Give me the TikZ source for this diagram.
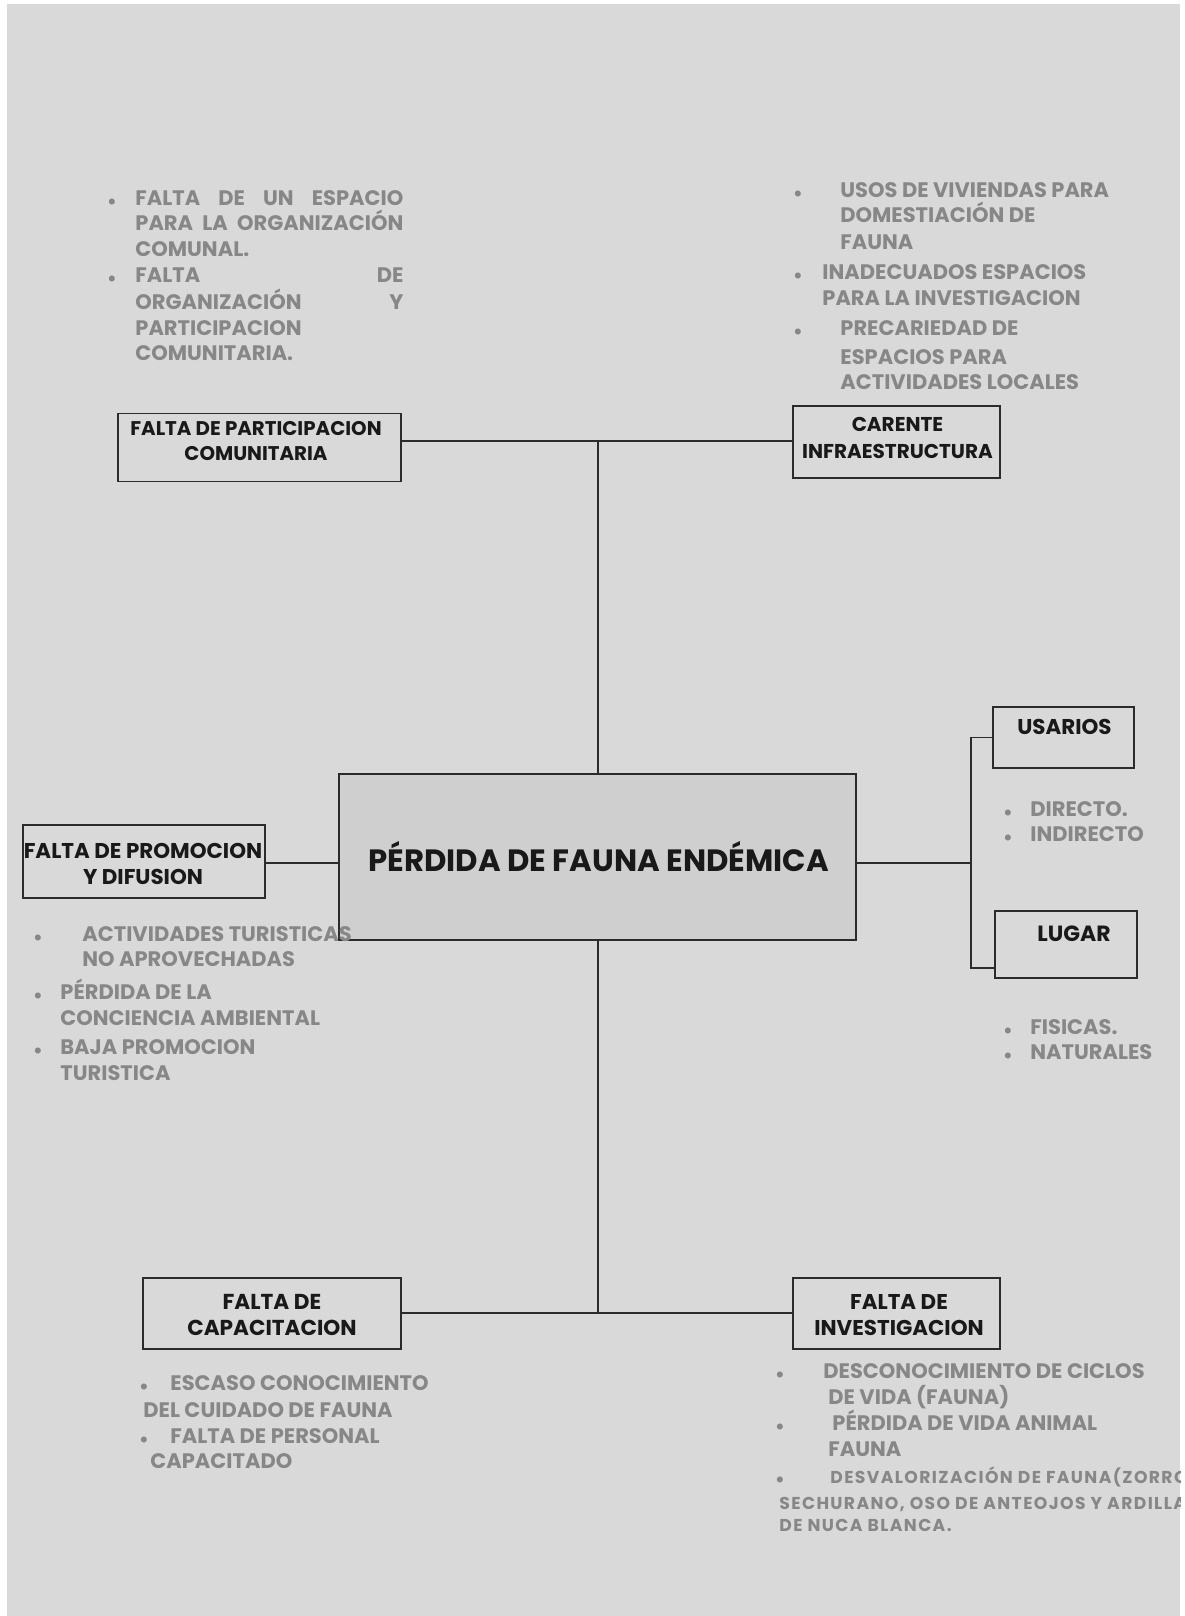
\documentclass[tikz,border=0pt]{standalone}
\usepackage{fontspec}
\setmainfont{Poppins}
\definecolor{bgray}{HTML}{D9D9D9}
\definecolor{cgray}{HTML}{CFCFCF}
\definecolor{tgray}{HTML}{878787}
\definecolor{kline}{HTML}{2B2B2B}
\begin{document}
\begin{tikzpicture}[x=0.5pt,y=-0.5pt,
 box/.style={draw=kline, line width=0.75pt, fill=bgray, inner sep=0pt},
 btxt/.style={inner sep=0pt, align=center, text=black!90},
 conn/.style={draw=kline, line width=0.7pt},
 gtxt/.style={text=tgray, font=\fontsize{10.5}{12}\selectfont\bfseries, inner sep=0pt, anchor=base west},
 stxt/.style={text=tgray, font=\fontsize{8.6}{10}\selectfont\bfseries\addfontfeature{LetterSpace=8}, inner sep=0pt, anchor=base west},
 gbul/.style={text=tgray, font=\fontsize{7}{10}\selectfont, inner sep=0pt, anchor=base}]
\useasboundingbox (0,0) rectangle (1184,1616);
\fill[white] (0,0) rectangle (1184,1616);
\fill[bgray] (7,4) rectangle (1180,1616);

% boxes
\node[box, minimum width=141.5pt, minimum height=34pt] (partic) at (259.5,447.5) {};
\node[box, minimum width=103.5pt, minimum height=36pt] (carente) at (896.5,442) {};
\node[box, minimum width=121pt, minimum height=36.5pt] (promo) at (144,861.5) {};
\node[box, fill=cgray, minimum width=258.5pt, minimum height=83pt] (central) at (597.5,857) {};
\node[box, minimum width=70.5pt, minimum height=30.5pt] (usarios) at (1063.5,737.5) {};
\node[box, minimum width=71pt, minimum height=33.5pt] (lugar) at (1066,944.5) {};
\node[box, minimum width=129pt, minimum height=35.5pt] (capac) at (272,1313.5) {};
\node[box, minimum width=103.5pt, minimum height=35.5pt] (invest) at (896.5,1313.5) {};

% box texts
\node[btxt, font=\fontsize{9.9}{12.4}\selectfont\bfseries] (partictxt) at (256,441) {FALTA DE PARTICIPACION\\COMUNITARIA};
\node[btxt, font=\fontsize{10}{13.4}\selectfont\bfseries] (carentetxt) at (897.5,438) {CARENTE\\INFRAESTRUCTURA};
\node[btxt, font=\fontsize{10.7}{12.9}\selectfont\bfseries] (promotxt) at (143,864) {FALTA DE PROMOCION\\Y DIFUSION};
\node[btxt, anchor=base, font=\fontsize{15.4}{17}\selectfont\bfseries] (centraltxt) at (598.7,871) {PÉRDIDA DE FAUNA ENDÉMICA};
\node[btxt, anchor=base, font=\fontsize{10.7}{13}\selectfont\bfseries] (usariostxt) at (1064.5,734) {USARIOS};
\node[btxt, anchor=base, font=\fontsize{11}{13}\selectfont\bfseries] (lugartxt) at (1074,941) {LUGAR};
\node[btxt, font=\fontsize{10.8}{13.4}\selectfont\bfseries] (capactxt) at (272,1315) {FALTA DE\\CAPACITACION};
\node[btxt, font=\fontsize{10.7}{13.4}\selectfont\bfseries] (investtxt) at (899,1315) {FALTA DE\\INVESTIGACION};

% connectors
\coordinate (ttop) at (598,441);
\coordinate (tbot) at (598,1313);
\coordinate (cm) at (0,863);
\coordinate (rj) at (971,863);
\coordinate (rt) at (971,737.5);
\coordinate (rb) at (971,968);
\draw[conn] (partic.east |- ttop) -- (carente.west |- ttop);
\draw[conn] (ttop) -- (ttop |- central.north);
\draw[conn] (tbot |- central.south) -- (tbot);
\draw[conn] (capac.east |- tbot) -- (invest.west |- tbot);
\draw[conn] (promo.east |- cm) -- (central.west |- cm);
\draw[conn] (central.east |- rj) -- (rj);
\draw[conn] (usarios.west) -- (rt) -- (rb) -- (lugar.west |- rb);

% top-left list
\node[gbul] (tlb1) at (112,205) {$\bullet$};
\node[gtxt] (tl1) at (135,205) {\makebox[134pt][s]{FALTA DE UN ESPACIO}};
\node[gtxt] (tl2) at (135,230) {\makebox[134pt][s]{PARA LA ORGANIZACIÓN}};
\node[gtxt] (tl3) at (135,256) {COMUNAL.};
\node[gbul] (tlb2) at (112,282) {$\bullet$};
\node[gtxt] (tl4) at (135,282) {\makebox[134pt][s]{FALTA DE}};
\node[gtxt] (tl5) at (135,309) {\makebox[134pt][s]{ORGANIZACIÓN Y}};
\node[gtxt] (tl6) at (135,335) {PARTICIPACION};
\node[gtxt] (tl7) at (135,360) {COMUNITARIA.};

% top-right list
\node[gbul] (trb1) at (798,197) {$\bullet$};
\node[gtxt] (tr1) at (840,197) {USOS DE VIVIENDAS PARA};
\node[gtxt] (tr2) at (840,222) {DOMESTIACIÓN DE};
\node[gtxt] (tr3) at (840,249) {FAUNA};
\node[gbul] (trb2) at (798,279) {$\bullet$};
\node[gtxt] (tr4) at (822,279) {INADECUADOS ESPACIOS};
\node[gtxt] (tr5) at (822,305) {PARA LA INVESTIGACION};
\node[gbul] (trb3) at (798,335) {$\bullet$};
\node[gtxt] (tr6) at (840,335) {PRECARIEDAD DE};
\node[gtxt] (tr7) at (840,364) {ESPACIOS PARA};
\node[gtxt] (tr8) at (840,389) {ACTIVIDADES LOCALES};

% left list
\node[gbul] (lb1) at (38,941) {$\bullet$};
\node[gtxt] (l1) at (82,941) {ACTIVIDADES TURISTICAS};
\node[gtxt] (l2) at (82,966) {NO APROVECHADAS};
\node[gbul] (lb2) at (38,999) {$\bullet$};
\node[gtxt] (l3) at (60,999) {PÉRDIDA DE LA};
\node[gtxt] (l4) at (60,1025) {CONCIENCIA AMBIENTAL};
\node[gbul] (lb3) at (38,1054) {$\bullet$};
\node[gtxt] (l5) at (60,1054) {BAJA PROMOCION};
\node[gtxt] (l6) at (60,1080) {TURISTICA};

% right lists
\node[gbul] (rb1) at (1008,816) {$\bullet$};
\node[gtxt] (r1) at (1030,816) {DIRECTO.};
\node[gbul] (rb2) at (1008,841) {$\bullet$};
\node[gtxt] (r2) at (1030,841) {INDIRECTO};
\node[gbul] (rb3) at (1008,1034) {$\bullet$};
\node[gtxt] (r3) at (1030,1034) {FISICAS.};
\node[gbul] (rb4) at (1008,1059) {$\bullet$};
\node[gtxt] (r4) at (1030,1059) {NATURALES};

% bottom-left list
\node[gbul] (blb1) at (144,1390) {$\bullet$};
\node[gtxt] (bl1) at (170,1390) {ESCASO CONOCIMIENTO};
\node[gtxt] (bl2) at (143,1417) {DEL CUIDADO DE FAUNA};
\node[gbul] (blb2) at (144,1443) {$\bullet$};
\node[gtxt] (bl3) at (170,1443) {FALTA DE PERSONAL};
\node[gtxt] (bl4) at (150,1468) {CAPACITADO};

% bottom-right list
\node[gbul] (brb1) at (780,1378) {$\bullet$};
\node[gtxt] (br1) at (823,1378) {DESCONOCIMIENTO DE CICLOS};
\node[gtxt] (br2) at (828,1404) {DE VIDA (FAUNA)};
\node[gbul] (brb2) at (780,1430) {$\bullet$};
\node[gtxt] (br3) at (832,1430) {PÉRDIDA DE VIDA ANIMAL};
\node[gtxt] (br4) at (828,1456) {FAUNA};
\begin{scope}
\clip (7,4) rectangle (1180,1616);
\node[gbul] (brb3) at (780,1483) {$\bullet$};
\node[stxt] (br5) at (830,1483) {DESVALORIZACIÓN DE FAUNA(ZORRO};
\node[stxt] (br6) at (779,1509) {SECHURANO, OSO DE ANTEOJOS Y ARDILLA};
\node[stxt] (br7) at (779,1531) {DE NUCA BLANCA.};
\end{scope}
\end{tikzpicture}
\end{document}
